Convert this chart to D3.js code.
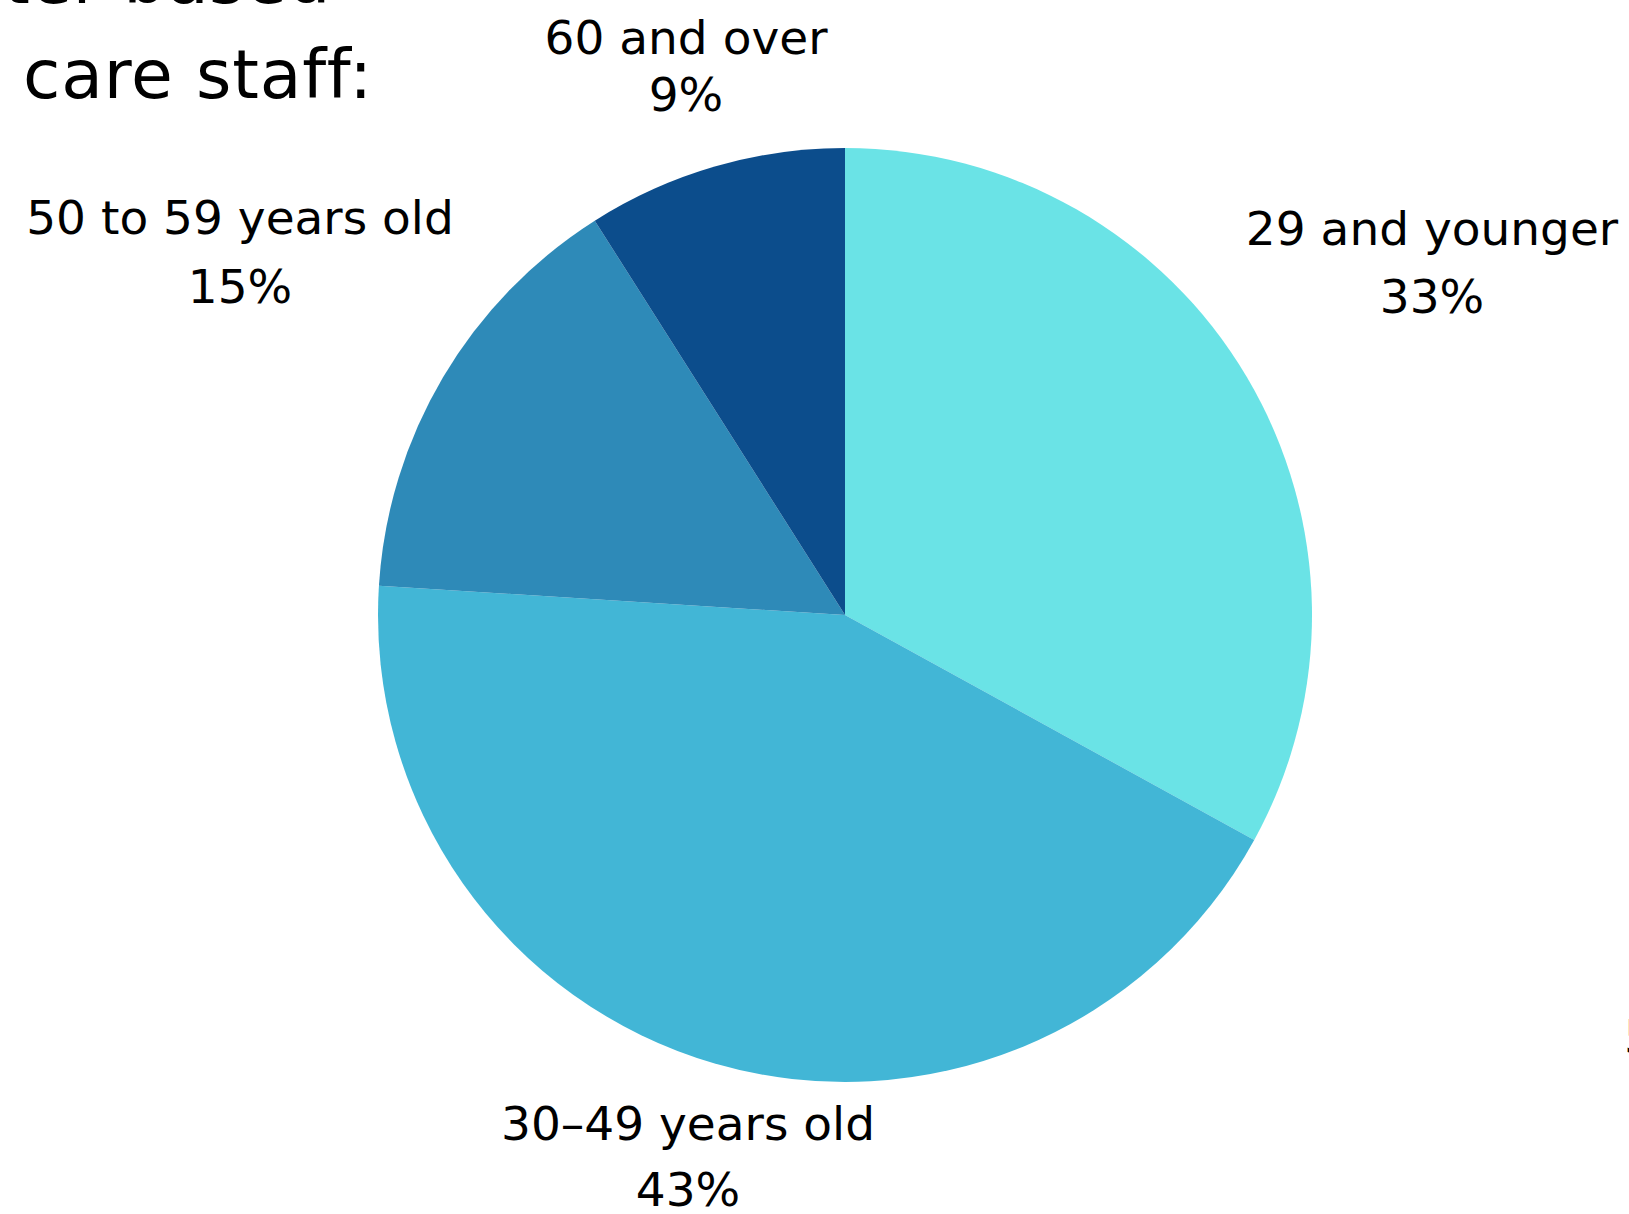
<!DOCTYPE html>
<html>
<head>
<meta charset="utf-8">
<script src="https://cdn.jsdelivr.net/npm/d3@7"></script>
<style>
  html, body { margin: 0; padding: 0; background: #ffffff; }
  svg { display: block; }
  text { font-family: "DejaVu Sans", sans-serif; fill: #000; }
</style>
</head>
<body>
<svg id="chart" width="1629" height="1214"></svg>
<script>
// Age groups of center-based care staff (percent of staff)
const categories = ["29 and younger", "30\u201349 years old", "50 to 59 years old", "60 and over"];
const values = [33, 43, 15, 9];
const colors = ["#6ae3e6", "#42b6d6", "#2e8ab8", "#0c4d8c"];

const W = 1629, H = 1214;
const cx = 845, cy = 615, radius = 467;

const svg = d3.select("#chart");

// Title block at the top left (first line runs off the top edge)
svg.append("text")
  .attr("x", 331).attr("y", 3)
  .attr("text-anchor", "end")
  .style("font-size", "68px")
  .style("letter-spacing", "0.5px")
  .text("Center based");
svg.append("text")
  .attr("x", 23).attr("y", 98)
  .style("font-size", "68px")
  .style("letter-spacing", "0.8px")
  .text("care staff:");

const pie = d3.pie().sort(null).value(d => d)(values);
const arc = d3.arc().innerRadius(0).outerRadius(radius);
const color = d3.scaleOrdinal().domain(categories).range(colors);

const g = svg.append("g").attr("transform", `translate(${cx},${cy})`);
g.selectAll("path")
  .data(pie)
  .join("path")
  .attr("d", arc)
  .attr("fill", (d, i) => color(categories[i]));

// Label placement for each slice: centre x and first-line baseline
const labelPos = [
  { x: 1432, y: 245, gap: 68 },
  { x: 688, y: 1140, gap: 66 },
  { x: 240, y: 234, gap: 69 },
  { x: 686, y: 54, gap: 57 }
];

const labels = svg.append("g")
  .style("font-size", "47px")
  .attr("text-anchor", "middle");

pie.forEach((d, i) => {
  const p = labelPos[i];
  const t = labels.append("text").attr("x", p.x).attr("y", p.y);
  t.append("tspan").attr("x", p.x).text(categories[i]);
  t.append("tspan").attr("x", p.x).attr("dy", p.gap).text(d.value + "%");
});

// Edge of a neighbouring label cut by the right border
svg.append("text")
  .attr("x", 1624).attr("y", 1053)
  .style("font-size", "47px")
  .text("5");
</script>
</body>
</html>
